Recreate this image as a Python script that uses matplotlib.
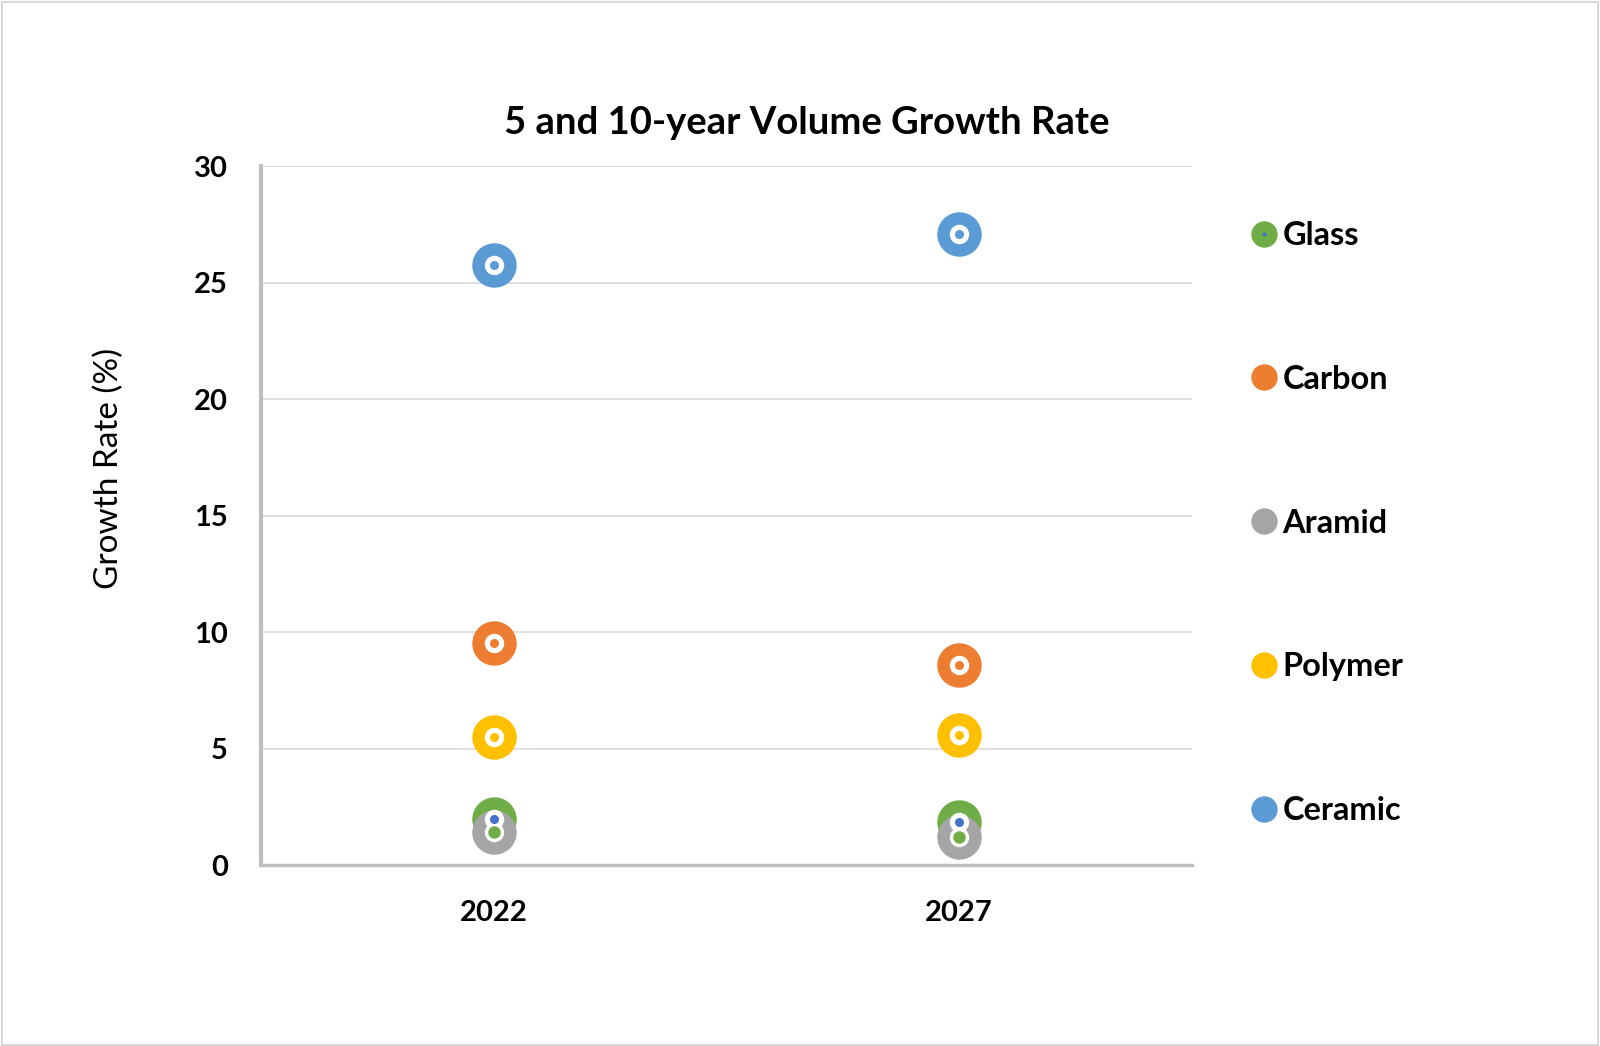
import matplotlib
matplotlib.use("Agg")
import matplotlib.pyplot as plt
from matplotlib.lines import Line2D
from matplotlib.legend_handler import HandlerTuple
from matplotlib.patches import Rectangle

plt.rcParams['font.family'] = ['Lato', 'DejaVu Sans']

# data
years = ['2022', '2027']
series = ['Glass', 'Carbon', 'Aramid', 'Polymer', 'Ceramic']
glass = [1.97, 1.88]
carbon = [9.55, 8.58]
aramid = [1.45, 1.23]
polymer = [5.52, 5.60]
ceramic = [25.75, 27.1]

colors = {
    'Glass': '#70AD47',
    'Carbon': '#ED7D31',
    'Aramid': '#A5A5A5',
    'Polymer': '#FFC000',
    'Ceramic': '#5B9BD5',
}
# centre dot colours that differ from the ring colour
center_dot = {'Glass': '#4472C4', 'Aramid': '#70AD47'}

values = {'Glass': glass, 'Carbon': carbon, 'Aramid': aramid,
          'Polymer': polymer, 'Ceramic': ceramic}

fig = plt.figure(figsize=(16, 10.46), dpi=100)
fig.patches.append(Rectangle((0.001, 0.001), 0.998, 0.997, transform=fig.transFigure,
                             fill=False, edgecolor='#D9D9D9', linewidth=1.5))

ax = fig.add_axes([0.1633, 0.1727, 0.5816, 0.6683])
x = [1, 2]

order = ['Ceramic', 'Carbon', 'Polymer', 'Glass', 'Aramid']
# outer rings, then white, then centre dots (layered like the original)
for name in order:
    ax.plot(x, values[name], 'o', ms=32, color=colors[name], mec='none', zorder=3)
for name in order:
    ax.plot(x, values[name], 'o', ms=14, color='white', mec='none', zorder=4)
for name in order:
    size = 9 if name == 'Aramid' else 6.5
    ax.plot(x, values[name], 'o', ms=size, color=center_dot.get(name, colors[name]),
            mec='none', zorder=5 if name != 'Glass' else 6)

ax.set_xlim(0.5, 2.5)
ax.set_ylim(0, 30)
ax.set_xticks(x)
ax.set_xticklabels(years)
ax.set_yticks(range(0, 31, 5))
ax.tick_params(axis='both', length=0, labelsize=21)
for lab in ax.get_xticklabels() + ax.get_yticklabels():
    lab.set_fontweight('bold')
ax.tick_params(axis='x', pad=25)
ax.tick_params(axis='y', pad=24)

ax.grid(axis='y', color='#D9D9D9', linewidth=1.2)
ax.set_axisbelow(True)
for s in ['top', 'right']:
    ax.spines[s].set_visible(False)
ax.spines['left'].set_color('#BFBFBF')
ax.spines['left'].set_linewidth(3)
ax.spines['bottom'].set_color('#BFBFBF')
ax.spines['bottom'].set_linewidth(2.5)

ax.set_ylabel('Growth Rate (%)', fontsize=24)
ax.yaxis.set_label_coords(-0.147, 0.568)
fig.text(0.504, 0.882, '5 and 10-year Volume Growth Rate', fontsize=27.5,
         fontweight='bold', ha='center', va='center')

handles = []
for name in series:
    h = Line2D([], [], marker='o', ls='none', ms=19, color=colors[name], mec='none')
    if name == 'Glass':
        dot = Line2D([], [], marker='o', ls='none', ms=3, color=center_dot[name], mec='none')
        h = (h, dot)
    handles.append(h)

leg = fig.legend(handles, series, loc='center left', bbox_to_anchor=(0.770, 0.500),
                 frameon=False, fontsize=23.4, labelspacing=3.53, handletextpad=0.0,
                 handlelength=1.15, borderaxespad=0,
                 handler_map={tuple: HandlerTuple(ndivide=1)})
for t in leg.get_texts():
    t.set_fontweight('bold')

fig.savefig('out.png', dpi=100)
